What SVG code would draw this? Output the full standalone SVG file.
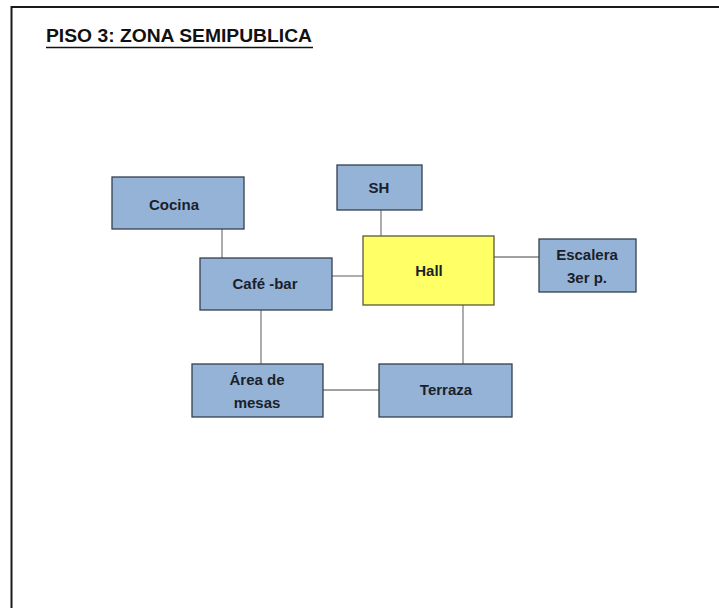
<svg xmlns="http://www.w3.org/2000/svg" width="719" height="608" viewBox="0 0 719 608">
<style>
.box{fill:#95b3d7;stroke:#33404f;stroke-width:1.3}
.hall{fill:#ffff66;stroke:#5a5a3a;stroke-width:1.3}
.lbl{font-family:"Liberation Sans",Arial,sans-serif;font-weight:bold;font-size:15px;fill:#1b1f2a;text-anchor:middle}
.con line{stroke:#808080;stroke-width:1.3}
</style>
<rect width="719" height="608" fill="#ffffff"/>
<path d="M11.5,608 V7 H719" fill="none" stroke="#1a1a1a" stroke-width="2"/>
<text x="46" y="41.5" font-family="'Liberation Sans',Arial,sans-serif" font-weight="bold" font-size="17.5" fill="#111" textLength="266" lengthAdjust="spacingAndGlyphs">PISO 3: ZONA SEMIPUBLICA</text>
<line x1="46" y1="47.5" x2="313" y2="47.5" stroke="#111" stroke-width="1.5"/>
<g id="connectors" class="con">
<line x1="222" y1="229" x2="222" y2="258"/>
<line x1="332" y1="276" x2="363" y2="276"/>
<line x1="261" y1="310" x2="261" y2="364"/>
<line x1="381" y1="210" x2="381" y2="236"/>
<line x1="494" y1="257" x2="539" y2="257"/>
<line x1="463" y1="305" x2="463" y2="364"/>
<line x1="323" y1="390" x2="379" y2="390"/>
</g>
<g id="cocina"><rect class="box" x="112" y="177" width="132" height="52"/><text class="lbl" x="174" y="210">Cocina</text></g>
<g id="cafe-bar"><rect class="box" x="200" y="258" width="132" height="52"/><text class="lbl" x="265" y="289">Café -bar</text></g>
<g id="sh"><rect class="box" x="337" y="165" width="85" height="45"/><text class="lbl" x="379" y="193">SH</text></g>
<g id="hall"><rect class="hall" x="363" y="236" width="131" height="69"/><text class="lbl" x="429" y="276">Hall</text></g>
<g id="escalera"><rect class="box" x="539" y="239" width="97" height="53"/><text class="lbl" x="587" y="260">Escalera</text><text class="lbl" x="587" y="283">3er p.</text></g>
<g id="area-mesas"><rect class="box" x="192" y="364" width="131" height="53"/><text class="lbl" x="257" y="385">Área de</text><text class="lbl" x="257" y="408">mesas</text></g>
<g id="terraza"><rect class="box" x="379" y="364" width="133" height="53"/><text class="lbl" x="446" y="395">Terraza</text></g>
</svg>
